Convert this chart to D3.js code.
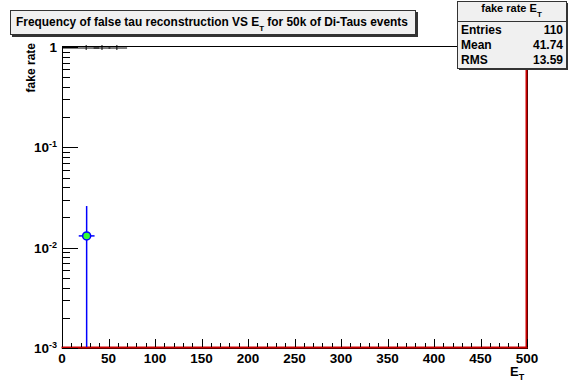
<!DOCTYPE html>
<html>
<head>
<meta charset="utf-8">
<script src="https://cdn.jsdelivr.net/npm/d3@7"></script>
<style>
  body { margin: 0; background: #fff; }
  text { font-family: "Liberation Sans", Arial, sans-serif; font-weight: bold; }
</style>
</head>
<body>
<svg width="571" height="383"></svg>
<script>
// data
var xMajor = [0, 50, 100, 150, 200, 250, 300, 350, 400, 450, 500];
var decades = [-3, -2, -1, 0];
// black points at fake rate = 1 (x centre, bin lo, bin hi)
var unitX = [26, 43, 59];
var unitLo = [0, 34, 50];
var unitHi = [40, 52, 70];
// the blue/green point
var blueX = [26.5];
var blueY = [0.0131];
var blueXerr = [8.5];
var blueYhi = [0.026];
// red histogram outline: empty bins then overflow edge at 500
var histX = [0, 500, 500];
var histY = [0.001, 0.001, 1];
var stats = [["Entries", "110"], ["Mean", "41.74"], ["RMS", "13.59"]];

var svg = d3.select("svg");
var pL = 62, pR = 527, pT = 46, pB = 348;

var x = d3.scaleLinear().domain([0, 500]).range([pL, pR]);
var y = d3.scaleLog().domain([0.001, 1]).range([pB, pT + 1]);

var plot = svg.append("g");

// frame
plot.append("rect")
    .attr("x", pL + 0.5).attr("y", pT + 0.5)
    .attr("width", pR - pL).attr("height", pB - pT)
    .attr("fill", "none").attr("stroke", "#000").attr("stroke-width", 1);

// red histogram, just inside the frame
var line = d3.line().x((d, i) => x(histX[i])).y((d, i) => y(histY[i]));
plot.append("path")
    .datum(histX)
    .attr("transform", "translate(-0.5,-0.5)")
    .attr("d", line)
    .attr("fill", "none")
    .attr("stroke", "#cc0000")
    .attr("stroke-width", 2);

// y ticks (log, inward)
var yTicks = [];
decades.forEach(function(e) {
    for (var m = 1; m < 10; m++) {
        var v = m * Math.pow(10, e);
        if (v <= 1) yTicks.push({ v: v, major: m === 1 });
    }
});
plot.append("g").selectAll("line")
    .data(yTicks).enter().append("line")
    .attr("x1", pL).attr("x2", d => pL + (d.major ? 16 : 8))
    .attr("y1", d => Math.round(y(d.v)) + 0.5).attr("y2", d => Math.round(y(d.v)) + 0.5)
    .attr("stroke", "#000");

// x ticks (inward)
var xTicks = d3.range(0, 501, 10);
plot.append("g").selectAll("line")
    .data(xTicks).enter().append("line")
    .attr("x1", d => Math.round(x(d)) + 0.5).attr("x2", d => Math.round(x(d)) + 0.5)
    .attr("y1", pB - 1).attr("y2", d => pB - (d % 50 === 0 ? 9 : 5))
    .attr("stroke", "#000");

// x tick labels
plot.append("g").selectAll("text")
    .data(xMajor).enter().append("text")
    .attr("x", d => x(d)).attr("y", pB + 15)
    .attr("text-anchor", "middle").attr("font-size", 13.5)
    .text(d => d);

// y tick labels
var ylab = plot.append("g").selectAll("text")
    .data(decades).enter().append("text")
    .attr("x", pL - 5).attr("y", d => y(Math.pow(10, d)) + 5)
    .attr("text-anchor", "end").attr("font-size", 13.5);
ylab.each(function(d) {
    var t = d3.select(this);
    if (d === 0) { t.text("1"); return; }
    t.append("tspan").text("10");
    t.append("tspan").attr("dy", -5).attr("font-size", 9).text(String(d));
});

// black points at 1
var unit = plot.append("g");
unitX.forEach(function(v, i) {
    unit.append("line")
        .attr("x1", x(unitLo[i])).attr("x2", x(unitHi[i]))
        .attr("y1", y(1) + 1).attr("y2", y(1) + 1)
        .attr("stroke", "#000");
    unit.append("line")
        .attr("x1", x(v)).attr("x2", x(v))
        .attr("y1", y(1) - 2).attr("y2", y(1) + 3)
        .attr("stroke", "#000");
});

// blue point with errors
var bp = plot.append("g");
blueX.forEach(function(v, i) {
    bp.append("line")
        .attr("x1", x(v)).attr("x2", x(v))
        .attr("y1", y(blueYhi[i])).attr("y2", pB - 1)
        .attr("stroke", "#0000ff").attr("stroke-width", 1.5);
    bp.append("line")
        .attr("x1", x(v - blueXerr[i])).attr("x2", x(v + blueXerr[i]))
        .attr("y1", y(blueY[i])).attr("y2", y(blueY[i]))
        .attr("stroke", "#0000ff").attr("stroke-width", 1.5);
    bp.append("circle")
        .attr("cx", x(v)).attr("cy", y(blueY[i])).attr("r", 4)
        .attr("fill", "#33ff33").attr("stroke", "#0000ff").attr("stroke-width", 1.5);
});

// axis titles
var xt = svg.append("text").attr("x", 510).attr("y", 376).attr("font-size", 13);
xt.append("tspan").text("E");
xt.append("tspan").attr("dy", 4).attr("font-size", 9).text("T");

svg.append("text")
    .attr("transform", "translate(35," + (pT - 3) + ") rotate(-90)")
    .attr("text-anchor", "end").attr("font-size", 12)
    .text("fake rate");

// title box
svg.append("rect").attr("x", 12).attr("y", 12).attr("width", 406).attr("height", 25).attr("fill", "#333");
svg.append("rect").attr("x", 10.5).attr("y", 10.5).attr("width", 405).attr("height", 24)
    .attr("fill", "#f0f0f0").attr("stroke", "#333");
var tt = svg.append("text").attr("x", 16).attr("y", 26).attr("font-size", 11.9);
tt.append("tspan").text("Frequency of false tau reconstruction VS E");
tt.append("tspan").attr("dy", 5).attr("font-size", 8).text("T");
tt.append("tspan").attr("dy", -5).text(" for 50k of Di-Taus events");

// stats box
var sx = 457, sy = 1, sw = 109, rowH = 15, headH = 20;
var sh = headH + rowH * stats.length + 2;
svg.append("rect").attr("x", sx + 2).attr("y", sy + 2).attr("width", sw).attr("height", sh).attr("fill", "#333");
svg.append("rect").attr("x", sx + 0.5).attr("y", sy + 0.5).attr("width", sw).attr("height", sh)
    .attr("fill", "#f0f0f0").attr("stroke", "#333");
svg.append("line").attr("x1", sx).attr("x2", sx + sw).attr("y1", sy + headH + 0.5).attr("y2", sy + headH + 0.5).attr("stroke", "#333");
var st = svg.append("text").attr("x", sx + sw / 2).attr("y", sy + 11).attr("text-anchor", "middle").attr("font-size", 11);
st.append("tspan").text("fake rate E");
st.append("tspan").attr("dy", 5).attr("font-size", 8).text("T");
var rows = svg.append("g").selectAll("g").data(stats).enter().append("g");
rows.append("text").attr("x", sx + 4).attr("y", (d, i) => sy + headH + 13 + i * rowH)
    .attr("font-size", 12).text(d => d[0]);
rows.append("text").attr("x", sx + sw - 3).attr("y", (d, i) => sy + headH + 13 + i * rowH)
    .attr("text-anchor", "end").attr("font-size", 12).text(d => d[1]);
</script>
</body>
</html>
